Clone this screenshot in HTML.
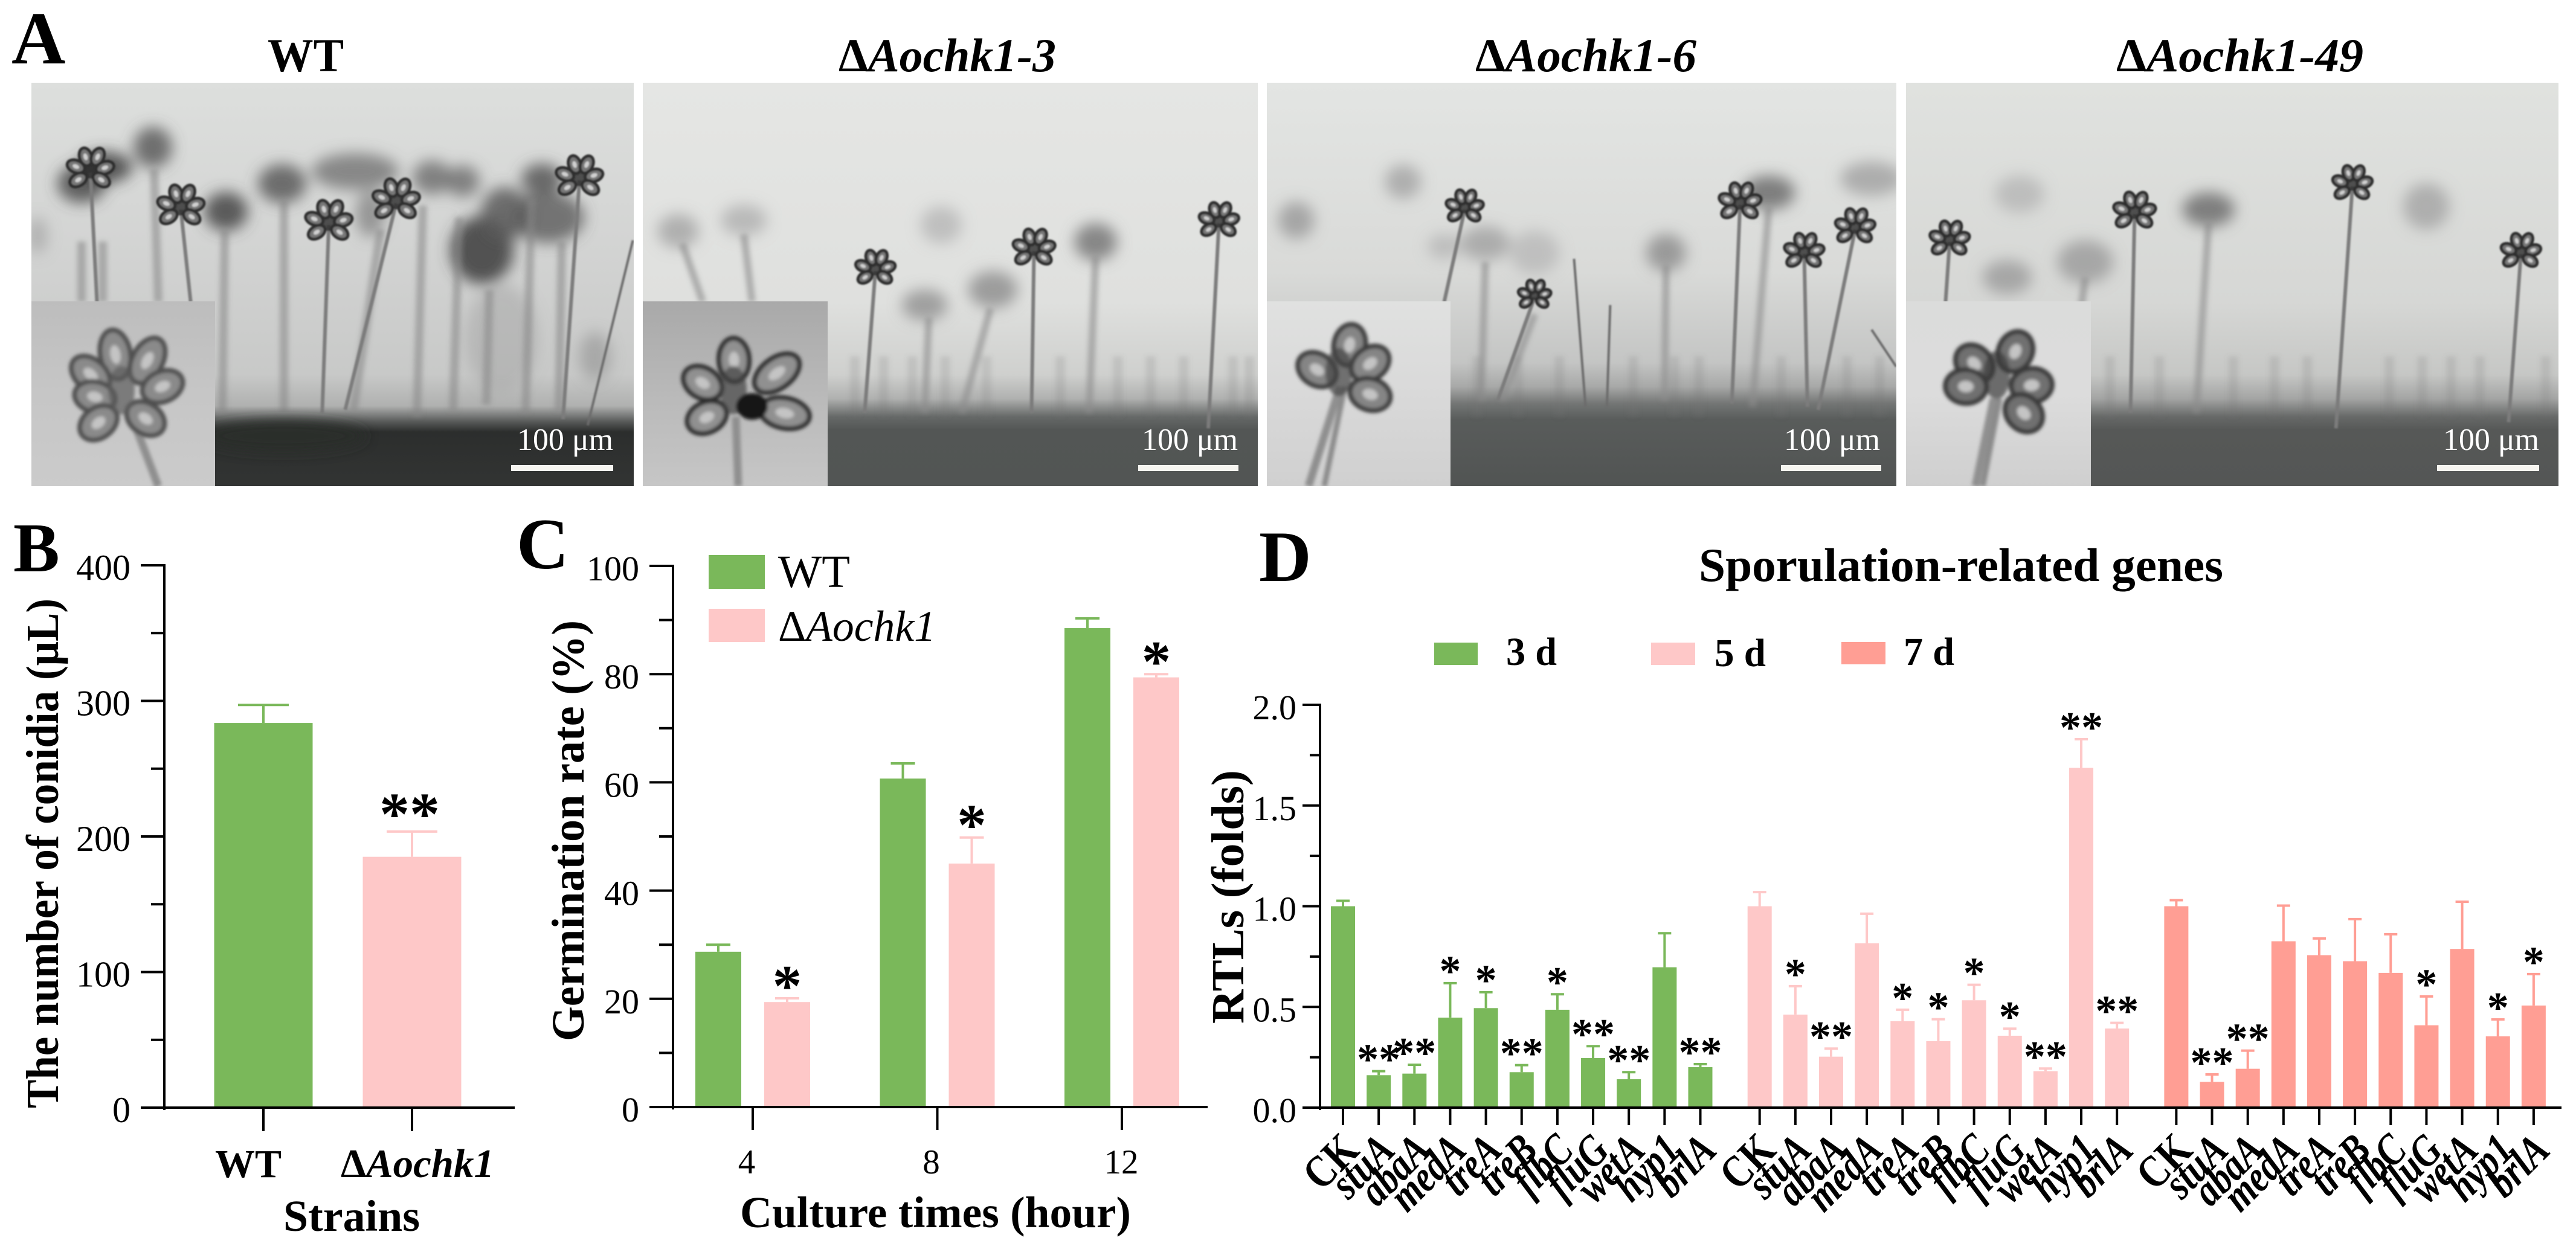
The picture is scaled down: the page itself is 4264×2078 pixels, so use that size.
<!DOCTYPE html>
<html lang="en">
<head>
<meta charset="utf-8">
<title>Aochk1 conidiation figure</title>
<style>
html,body{margin:0;padding:0;background:#fff;}
svg{display:block;}
text{font-family:"Liberation Serif",serif;fill:#000;}
.b{font-weight:bold;}
.i{font-style:italic;}
.n{font-style:normal;}
</style>
</head>
<body>
<svg id="fig" xmlns="http://www.w3.org/2000/svg" width="4264" height="2078" viewBox="0 0 4264 2078">
<defs>
<filter id="blur-heavy" x="-100%" y="-100%" width="300%" height="300%"><feGaussianBlur stdDeviation="16"/></filter>
<filter id="blur-soft" filterUnits="userSpaceOnUse" x="0" y="100" width="4264" height="720"><feGaussianBlur stdDeviation="12"/></filter>
<filter id="blur-mid" filterUnits="userSpaceOnUse" x="0" y="100" width="4264" height="720"><feGaussianBlur stdDeviation="10"/></filter>
<filter id="blur-stem" filterUnits="userSpaceOnUse" x="0" y="100" width="4264" height="720"><feGaussianBlur stdDeviation="4"/></filter>
<filter id="blur-fine" filterUnits="userSpaceOnUse" x="0" y="100" width="4264" height="720"><feGaussianBlur stdDeviation="1.4"/></filter>
<filter id="blur-inset" filterUnits="userSpaceOnUse" x="0" y="100" width="4264" height="720"><feGaussianBlur stdDeviation="3"/></filter>
</defs>

<text class="b" x="19" y="105" font-size="124">A</text>
<text class="b" x="22" y="946" font-size="115">B</text>
<text class="b" x="855" y="941" font-size="120">C</text>
<text class="b" x="2084" y="962" font-size="120">D</text>

<text class="b" x="443" y="118" font-size="78" textLength="126" lengthAdjust="spacingAndGlyphs">WT</text>
<text class="b i" x="1388" y="118" font-size="78" textLength="360" lengthAdjust="spacingAndGlyphs"><tspan class="n">Δ</tspan>Aochk1-3</text>
<text class="b i" x="2442" y="118" font-size="78" textLength="366" lengthAdjust="spacingAndGlyphs"><tspan class="n">Δ</tspan>Aochk1-6</text>
<text class="b i" x="3503" y="118" font-size="78" textLength="409" lengthAdjust="spacingAndGlyphs"><tspan class="n">Δ</tspan>Aochk1-49</text>

<g id="photos"></g>

<g id="chart-b">
<text class="b" transform="translate(96,1835) rotate(-90)" font-size="76" textLength="844" lengthAdjust="spacingAndGlyphs">The number of conidia (μL)</text>
<text class="b" x="469" y="2038" font-size="73" textLength="226" lengthAdjust="spacingAndGlyphs">Strains</text>
</g>

<g id="chart-c">
<text class="b" transform="translate(966,1724) rotate(-90)" font-size="76" textLength="697" lengthAdjust="spacingAndGlyphs">Germination rate (%)</text>
<text class="b" x="1225" y="2032" font-size="73" textLength="647" lengthAdjust="spacingAndGlyphs">Culture times (hour)</text>
<rect x="1173" y="919" width="93" height="56" fill="#7ab85a"/>
<rect x="1173" y="1008" width="93" height="55" fill="#fec8c8"/>
<text x="1288" y="972" font-size="76" textLength="119" lengthAdjust="spacingAndGlyphs">WT</text>
<text class="i" x="1288" y="1061" font-size="72" textLength="261" lengthAdjust="spacingAndGlyphs"><tspan class="n">Δ</tspan>Aochk1</text>
</g>

<g id="chart-d">
<text class="b" x="2812" y="962" font-size="78" textLength="868" lengthAdjust="spacingAndGlyphs">Sporulation-related genes</text>
<text class="b" transform="translate(2058,1695) rotate(-90)" font-size="76" textLength="420" lengthAdjust="spacingAndGlyphs">RTLs (folds)</text>
<rect x="2374" y="1064" width="72" height="37" fill="#7ab85a"/>
<rect x="2733" y="1064" width="73" height="37" fill="#fec8c8"/>
<rect x="3048" y="1063" width="73" height="37" fill="#ff9e94"/>
<text class="b" x="2493" y="1101" font-size="66" textLength="84" lengthAdjust="spacingAndGlyphs">3 d</text>
<text class="b" x="2838" y="1103" font-size="66" textLength="85" lengthAdjust="spacingAndGlyphs">5 d</text>
<text class="b" x="3151" y="1101" font-size="66" textLength="84" lengthAdjust="spacingAndGlyphs">7 d</text>
</g>
</svg>

<script>
// ---------- chart data ----------
const bCategories = ['WT', 'ΔAochk1'];
const bValues = [283.7, 185];
const bErrTop = [297, 203.6];
const bStars = ['', '**'];
const bTicks = [0, 100, 200, 300, 400];
const bMinorTicks = [50, 150, 250, 350];

const cCategories = ['4', '8', '12'];
const cWT = [28.7, 60.7, 88.5];
const cWTErrTop = [30, 63.5, 90.3];
const cKO = [19.4, 45, 79.4];
const cKOErrTop = [20.1, 49.8, 80];
const cStars = ['*', '*', '*'];
const cTicks = [0, 20, 40, 60, 80, 100];
const cMinorTicks = [10, 30, 50, 70, 90];

const dGenes = ['CK', 'stuA', 'abaA', 'medA', 'treA', 'treB', 'flbC', 'fluG', 'wetA', 'hyp1', 'brlA'];
const d3Values = [1.0, 0.161, 0.169, 0.447, 0.494, 0.176, 0.486, 0.246, 0.141, 0.697, 0.201];
const d3ErrTop = [1.027, 0.181, 0.213, 0.618, 0.573, 0.211, 0.563, 0.305, 0.176, 0.866, 0.216];
const d3Stars = ['', '**', '**', '*', '*', '**', '*', '**', '**', '', '**'];
const d5Values = [1.0, 0.462, 0.253, 0.816, 0.429, 0.33, 0.533, 0.357, 0.181, 1.687, 0.393];
const d5ErrTop = [1.07, 0.603, 0.293, 0.963, 0.486, 0.439, 0.61, 0.392, 0.194, 1.829, 0.421];
const d5Stars = ['', '*', '**', '', '*', '*', '*', '*', '**', '**', '**'];
const d7Values = [1.0, 0.128, 0.193, 0.826, 0.757, 0.727, 0.669, 0.409, 0.788, 0.354, 0.507];
const d7ErrTop = [1.03, 0.165, 0.283, 1.003, 0.84, 0.936, 0.861, 0.552, 1.022, 0.438, 0.663];
const d7Stars = ['', '**', '**', '', '', '', '', '*', '', '*', '*'];
const dTicks = [0, 0.5, 1.0, 1.5, 2.0];
const dMinorTicks = [0.25, 0.75, 1.25, 1.75];

// ---------- helpers ----------
const NS = 'http://www.w3.org/2000/svg';
const GREEN = '#7ab85a', PINK = '#fec8c8', SALMON = '#ff9e94';
function mk(tag, attrs, parent) {
  const el = document.createElementNS(NS, tag);
  for (const k in attrs) el.setAttribute(k, attrs[k]);
  parent.appendChild(el);
  return el;
}
function seg(parent, x1, y1, x2, y2, stroke, sw) {
  return mk('line', {x1, y1, x2, y2, stroke, 'stroke-width': sw}, parent);
}
function drawYAxis(g, axisX, yOf, ticks, minors, fmt, majorLen, minorLen, labelX, fs) {
  const axis = seg(g, axisX, yOf(ticks[ticks.length - 1]) - 2, axisX, yOf(0) + 4, '#000', 4);
  
  
  ticks.forEach(t => {
    const tick = seg(g, axisX - majorLen, yOf(t), axisX, yOf(t), '#000', 4);
    
    
    const lab = mk('text', {x: labelX, y: yOf(t) + 24, 'font-size': fs, 'text-anchor': 'end'}, g);
    lab.textContent = fmt(t);
    
    
  });
  minors.forEach(t => {
    const tick = seg(g, axisX - minorLen, yOf(t), axisX, yOf(t), '#000', 4);
    
    
  });
}
function drawBar(g, cx, width, yOf, value, errTop, capHalf, color) {
  const bar = mk('rect', {x: cx - width / 2, y: yOf(value), width, height: yOf(0) - yOf(value), fill: color}, g);
  
  
  const stem = seg(g, cx, yOf(value), cx, yOf(errTop), color, 4);
  
  
  const cap = seg(g, cx - capHalf, yOf(errTop), cx + capHalf, yOf(errTop), color, 4);
  
  
}
function drawStar(g, cx, centerY, mark, fs) {
  if (!mark) return;
  const s = mk('text', {x: cx, y: centerY + 0.463 * fs, 'font-size': fs, 'font-weight': 'bold', 'text-anchor': 'middle'}, g);
  s.textContent = mark;
  
  
}

// ---------- chart B ----------
(function () {
  const g = document.getElementById('chart-b');
  const yOf = v => 1834 - v * 898 / 400;
  const xOf = i => 436 + 246 * i;
  const colors = [GREEN, PINK];
  bValues.forEach((v, i) => {
    drawBar(g, xOf(i), 163, yOf, v, bErrTop[i], 42, colors[i]);
    drawStar(g, xOf(i) - 4, yOf(bErrTop[i]) - 42, bStars[i], 100);
    const tick = seg(g, xOf(i), yOf(0), xOf(i), 1873, '#000', 4);
    
    
  });
  const xAxis = seg(g, 233, yOf(0), 852, yOf(0), '#000', 4);
  
  
  drawYAxis(g, 272, yOf, bTicks, bMinorTicks, t => String(t), 39, 22, 216, 60);
  const l1 = mk('text', {x: 356, y: 1949, 'font-size': 66, 'font-weight': 'bold', textLength: 110, lengthAdjust: 'spacingAndGlyphs'}, g);
  l1.textContent = bCategories[0];
  
  
  const l2 = mk('text', {x: 564, y: 1949, 'font-size': 67, 'font-weight': 'bold', 'font-style': 'italic', textLength: 254, lengthAdjust: 'spacingAndGlyphs'}, g);
  const d = mk('tspan', {'font-style': 'normal'}, l2);
  d.textContent = bCategories[1].charAt(0);
  l2.appendChild(document.createTextNode(bCategories[1].slice(1)));
  
  
})();

// ---------- chart C ----------
(function () {
  const g = document.getElementById('chart-c');
  const yOf = v => 1833 - v * 896 / 100;
  const xOf = i => 1246 + 305.5 * i;
  cCategories.forEach((c, i) => {
    drawBar(g, xOf(i) - 57, 76, yOf, cWT[i], cWTErrTop[i], 20, GREEN);
    drawBar(g, xOf(i) + 57, 76, yOf, cKO[i], cKOErrTop[i], 20, PINK);
    drawStar(g, xOf(i) + 57, yOf(cKOErrTop[i]) - 33, cStars[i], 97);
    const tick = seg(g, xOf(i), yOf(0), xOf(i), 1871, '#000', 4);
    
    
    const lab = mk('text', {x: xOf(i) - (i < 2 ? 10 : 1), y: 1943, 'font-size': 57, 'text-anchor': 'middle'}, g);
    lab.textContent = c;
    
    
  });
  const xAxis = seg(g, 1075, yOf(0), 1999, yOf(0), '#000', 4);
  
  
  drawYAxis(g, 1114, yOf, cTicks, cMinorTicks, t => String(t), 39, 23, 1058, 58);
})();

// ---------- chart D ----------
(function () {
  const g = document.getElementById('chart-d');
  const yOf = v => 1834 - v * 333.5;
  const xOf = (s, i) => 2223 + 59.15 * (i + 11.66 * s);
  const sets = [
    [d3Values, d3ErrTop, d3Stars, GREEN],
    [d5Values, d5ErrTop, d5Stars, PINK],
    [d7Values, d7ErrTop, d7Stars, SALMON]
  ];
  sets.forEach((set, s) => {
    set[0].forEach((v, i) => {
      const x = xOf(s, i);
      drawBar(g, x, 40, yOf, v, set[1][i], 11, set[3]);
      drawStar(g, x, yOf(set[1][i]) - 29, set[2][i], 72);
      const tick = seg(g, x, yOf(0), x, 1863, '#000', 4);
      
      
      const isCK = dGenes[i] === 'CK';
      const lab = mk('text', {
        transform: 'translate(' + (x + 30) + ',' + (isCK ? 1908 : 1908) + ') rotate(-45) scale(1,1.22)',
        'font-size': isCK ? 62 : 60, 'font-weight': 'bold', 'font-style': isCK ? 'normal' : 'italic', 'text-anchor': 'end'
      }, g);
      lab.textContent = dGenes[i];
      
      
    });
  });
  const xAxis = seg(g, 2156, yOf(0), 4240, yOf(0), '#000', 4);
  
  
  drawYAxis(g, 2185, yOf, dTicks, dMinorTicks, t => t.toFixed(1), 29, 17, 2146, 58);
})();

// ---------- micrographs ----------
(function () {
  const root = document.getElementById('photos');
  const defs = document.querySelector('defs');
  const T = 137, B = 805, H = B - T;
  const X = (x, off) => (off || 0) + x / 0.735;
  const Y = y => y / 1.96;
  const panels = [
    {name: 'wt', x: 52, w: 997, insetW: 304, off: 0,
     stops: [[137,'#dddfdd'],[400,'#d3d4d3'],[620,'#c8c9c8'],[672,'#b0b1b0'],[698,'#585a59'],[715,'#2c2e2d'],[805,'#323433']],
     inset: ['#bdbdbd','#c6c6c6','#cbcbcb'],
     blobs: [],
     realBlobs: [[253,244,32,34,'#5c5c5c',.85],[135,304,40,32,'#4a4a4a',.85],[173,277,46,26,'#404040',.85],[467,304,40,32,'#5a5a5a',.85],[588,284,72,30,'#6c6c6c',.75],[715,294,32,28,'#6a6a6a',.8],[766,300,28,26,'#6a6a6a',.8],[897,297,34,26,'#555',.85],[374,350,36,32,'#4e4e4e',.9],[798,414,52,56,'#444',.9],[836,354,40,44,'#5a5a5a',.85],[907,360,60,42,'#5a5a5a',.8],[613,354,24,38,'#7a7a7a',.7],[62,390,16,30,'#9a9a9a',.6],[985,590,26,40,'#888',.5],[830,560,60,90,'#a0a0a0',.45]],
     softStems: [[135,400,135,500],[170,400,170,500],[255,280,262,500],[372,380,368,684],[470,330,470,684],[880,330,870,684],[700,340,690,690],[810,480,805,670],[630,380,585,680],[760,360,750,680],[930,400,925,680]],
     flowers: [[110,560,118,980,1],[220,680,232,980,1],[400,730,392,1340,1],[482,660,420,1330,1],[705,585,685,1360,1]],
     thin: [[770,780,715,1380]],
     fringe: [],
     bar: [846,1015], text: 856,
     mound: [470,722,135,26],
     lobes: {bx: 205, by: 668, list: [[-14,-81],[39,-71],[64,-28],[-55,-48],[-48,-11],[-42,32],[36,25]], stem: [222,700,262,805], fill: '#8a8a8a', rim: '#505050', center: '#5c5c5c', rx: 25}},
    {name: 'aochk1-3', x: 1064, w: 1018, insetW: 306, off: 0,
     stops: [[137,'#e5e6e4'],[500,'#dfe0de'],[620,'#cfd0ce'],[660,'#b0b1b0'],[690,'#666968'],[712,'#535655'],[805,'#525554']],
     inset: ['#a9a9a9','#b9b9b9','#c6c6c6'],
     blobs: [[825,750,25,55,'#9a9a9a',.7],[905,715,28,50,'#a8a8a8',.7],[1145,730,25,60,'#b0b0b0',.7],[1125,990,28,50,'#8e8e8e',.8],[1208,940,30,60,'#8c8c8c',.8],[1333,785,26,60,'#777',.85]],
     softStems: [[830,790,855,980],[905,760,915,980],[1130,1030,1125,1340],[1205,1000,1170,1340],[1333,830,1325,1340]],
     flowers: [[1065,880,1052,1340,.85],[1258,815,1255,1340,.9],[1483,725,1470,1390,.85]],
     thin: [],
     fringe: [1040,1075,1110,1150,1200,1290,1360,1400,1440,1500,1520],
     bar: [1884,2050], text: 1890,
     lobes: {bx: 1218, by: 668, list: [[-3,-72],[68,-50],[-55,-34],[81,16],[-48,23]], stem: [1218,690,1222,805], fill: '#909090', rim: '#2e2e2e', center: '#444', dark: [1245,673], rx: 25}},
    {name: 'aochk1-6', x: 2097, w: 1042, insetW: 304, off: 2132,
     stops: [[137,'#e3e5e3'],[450,'#d9dad8'],[600,'#c4c5c4'],[640,'#a8a9a8'],[668,'#747675'],[695,'#595c5b'],[805,'#515453']],
     inset: ['#e0e1e0','#d9d9d9','#d0d0d0'],
     blobs: [[140,590,22,55,'#a2a2a2',.8],[10,715,22,60,'#9c9c9c',.85],[240,790,30,55,'#a0a0a0',.8],[190,800,20,40,'#b0b0b0',.7],[460,820,24,60,'#8e8e8e',.85],[300,820,30,70,'#b4b4b4',.7],[585,625,32,55,'#6c6c6c',.85],[710,580,38,55,'#a0a0a0',.8]],
     softStems: [[460,860,458,1300],[585,670,565,1320],[240,850,235,1300],[300,1020,260,1300]],
     flowers: [[215,680,190,980,.8],[300,965,255,1300,.7],[550,665,540,1310,.9],[628,825,632,1320,.85],[690,745,645,1330,.85]],
     thin: [[348,840,362,1320],[392,990,388,1320],[710,1070,740,1190]],
     fringe: [230,280,330,420,470,500,600,680,720],
     bar: [2948,3114], text: 2953,
     lobes: {bx: 2220, by: 638, list: [[14,-67],[-40,-26],[48,-36],[48,15]], stem: [2218,640,2166,805], stem2: [2226,640,2192,805], fill: '#858585', rim: '#3c3c3c', center: '#444', rx: 26}},
    {name: 'aochk1-49', x: 3155, w: 1080, insetW: 306, off: 2132,
     stops: [[137,'#e0e2df'],[500,'#d6d7d5'],[620,'#c6c7c5'],[660,'#a4a5a4'],[690,'#676968'],[712,'#565857'],[805,'#545655']],
     inset: ['#dbdcdb','#dcdcdc','#cfcfcf'],
     blobs: [[890,630,30,60,'#b0b0b0',.7],[875,900,30,55,'#9a9a9a',.8],[970,850,34,70,'#9a9a9a',.8],[1385,670,28,75,'#a4a4a4',.8],[1120,680,32,55,'#6e6e6e',.85]],
     softStems: [[1120,720,1105,1340],[970,900,965,1000]],
     flowers: [[805,785,800,980,.85],[1030,695,1025,1340,.9],[1295,605,1275,1390,.85],[1500,825,1485,1370,.85]],
     thin: [],
     fringe: [1000,1060,1150,1200,1240,1340,1415,1380,1450,1530],
     bar: [4034,4203], text: 4044,
     lobes: {bx: 3309, by: 643, list: [[27,-61],[-41,-41],[-55,-3],[54,-5],[41,41]], stem: [3300,660,3270,805], stem2: [3310,660,3282,805], fill: '#707070', rim: '#3a3a3a', center: '#3c3c3c', rx: 28}}
  ];
  const smallPattern = [[-24,-10],[-20,12],[-8,-26],[12,-26],[24,-8],[18,12]];
  function lobe(g, bx, by, dx, dy, rx, ry, fill, rim, sw, hl) {
    const ang = Math.atan2(dx, -dy) * 180 / Math.PI;
    const t = 'translate(' + (bx + dx) + ',' + (by + dy) + ') rotate(' + ang + ')';
    const e = mk('ellipse', {rx, ry, fill, stroke: rim, 'stroke-width': sw, transform: t}, g);
    
    
    if (hl) {
      const h = mk('ellipse', {rx: rx * .34, ry: ry * .38, fill: hl, transform: t}, g);
      
      
    }
  }
  panels.forEach(p => {
    const grad = mk('linearGradient', {id: 'bg-' + p.name, gradientUnits: 'userSpaceOnUse', x1: 0, y1: T, x2: 0, y2: B}, defs);
    p.stops.forEach(s => mk('stop', {offset: (s[0] - T) / H, 'stop-color': s[1]}, grad));
    const ig = mk('linearGradient', {id: 'inset-' + p.name, gradientUnits: 'userSpaceOnUse', x1: 0, y1: 499, x2: 0, y2: B}, defs);
    p.inset.forEach((c, i) => mk('stop', {offset: i / 2, 'stop-color': c}, ig));
    const cp = mk('clipPath', {id: 'clip-' + p.name}, defs);
    mk('rect', {x: p.x, y: T, width: p.w, height: H}, cp);

    const g = mk('g', {'clip-path': 'url(#clip-' + p.name + ')'}, root);
    
    
    const bg = mk('rect', {x: p.x, y: T, width: p.w, height: H, fill: 'url(#bg-' + p.name + ')'}, g);
    
    

    const blobs = mk('g', {filter: 'url(#blur-soft)'}, g);
    
    
    p.blobs.forEach(b => {
      mk('ellipse', {cx: X(b[0], p.off), cy: Y(b[1]), rx: b[2] / .735, ry: b[3] / 1.96, fill: b[4], opacity: b[5]}, blobs);
    });
    (p.realBlobs || []).forEach(b => {
      mk('ellipse', {cx: b[0], cy: b[1], rx: b[2], ry: b[3], fill: b[4], opacity: b[5]}, blobs);
    });
    const soft = mk('g', {filter: 'url(#blur-stem)'}, g);
    
    
    if (p.name === 'wt') {
      p.softStems.forEach(s => {
        seg(soft, s[0], s[1], s[2], s[3], '#858585', 14).setAttribute('opacity', .55);
      });
    } else {
      p.softStems.forEach(s => {
        seg(soft, X(s[0], p.off), Y(s[1]), X(s[2], p.off), Y(s[3]), '#8c8c8c', 12).setAttribute('opacity', .6);
      });
    }
    p.fringe.forEach(fx => {
      seg(soft, X(fx, p.off), 590, X(fx, p.off), 690, '#777', 16).setAttribute('opacity', .18);
    });
    const sharp = mk('g', {filter: 'url(#blur-fine)'}, g);
    
    
    p.thin.forEach(s => {
      seg(sharp, X(s[0], p.off), Y(s[1]), X(s[2], p.off), Y(s[3]), '#6c6c6c', 4);
    });
    p.flowers.forEach(f => {
      seg(sharp, X(f[0], p.off), Y(f[1]), X(f[2], p.off), Y(f[3]), '#7c7c7c', 6);
      mk('ellipse', {cx: X(f[0], p.off), cy: Y(f[1]) - 8, rx: 14 * f[4], ry: 18 * f[4], fill: '#2a2a2a', opacity: .8}, sharp);
      smallPattern.forEach(l => {
        lobe(sharp, X(f[0], p.off), Y(f[1]), l[0] * f[4], l[1] * f[4], 10 * f[4], 15 * f[4], '#787878', '#2e2e2e', 5, '#d0d0d0');
      });
    });
    if (p.mound) {
      const m = mk('ellipse', {cx: p.mound[0], cy: p.mound[1], rx: p.mound[2], ry: p.mound[3], fill: '#2b2d2c', filter: 'url(#blur-mid)'}, g);
      
      
    }
    const inset = mk('rect', {x: p.x, y: 499, width: p.insetW, height: B - 499, fill: 'url(#inset-' + p.name + ')'}, g);
    
    
    const fl = mk('g', {filter: 'url(#blur-inset)'}, g);
    
    
    const L = p.lobes;
    seg(fl, L.stem[0], L.stem[1], L.stem[2], L.stem[3], '#8f8f8f', 13);
    if (L.stem2) seg(fl, L.stem2[0], L.stem2[1], L.stem2[2], L.stem2[3], '#8a8a8a', 9);
    L.list.forEach(l => {
      lobe(fl, L.bx, L.by, l[0], l[1], L.rx, Math.max(34, Math.hypot(l[0], l[1]) * .5), L.fill, L.rim, 8, '#c4c4c4');
    });
    mk('ellipse', {cx: L.bx - 4, cy: L.by - 22, rx: 22, ry: 40, fill: L.center, opacity: .7}, fl);
    if (L.dark) mk('ellipse', {cx: L.dark[0], cy: L.dark[1], rx: 26, ry: 22, fill: '#151515'}, fl);

    const lab = mk('text', {x: p.text, y: 745, 'font-size': 52, textLength: 159, lengthAdjust: 'spacingAndGlyphs', style: 'fill:#fff'}, g);
    lab.textContent = '100 μm';
    
    
    const sb = mk('rect', {x: p.bar[0], y: 770, width: p.bar[1] - p.bar[0], height: 10, fill: '#f6f5f0'}, g);
    
    
  });
})();
</script>
</body>
</html>
